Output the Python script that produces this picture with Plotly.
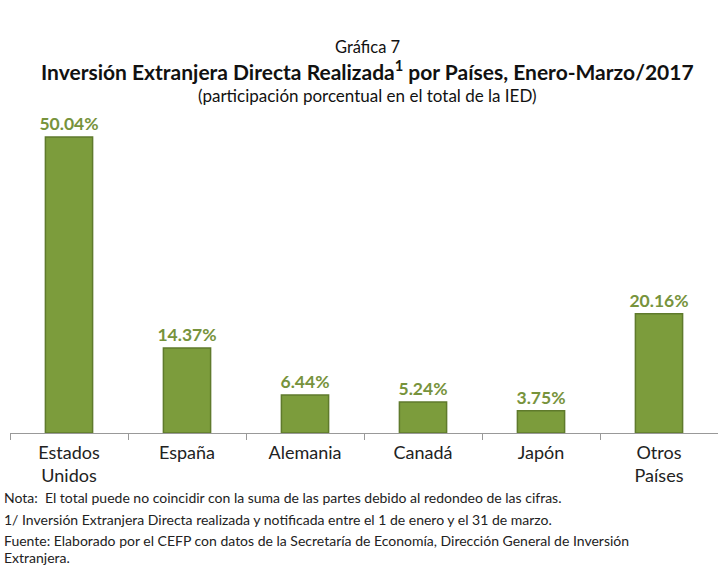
import plotly.graph_objects as go

categories = ["Estados<br>Unidos", "España", "Alemania", "Canadá", "Japón", "Otros<br>Países"]
values = [50.04, 14.37, 6.44, 5.24, 3.75, 20.16]
value_labels = ["50.04%", "14.37%", "6.44%", "5.24%", "3.75%", "20.16%"]

FONT = "Lato, 'Open Sans', sans-serif"
W, H = 718, 565
MT, MB = 110, 132
PH = H - MT - MB

fig = go.Figure()
fig.add_trace(go.Bar(
    x=categories, y=values, text=value_labels, textposition="outside",
    constraintext="none",
    textfont=dict(family=FONT, size=17.5, color="#77933C", weight="bold"),
    marker=dict(color="#7C9C3C", line=dict(color="#5F7A2C", width=1.5)),
    width=0.4, cliponaxis=False,
))

fig.update_layout(
    width=W, height=H,
    margin=dict(l=10, r=0, t=MT, b=MB),
    paper_bgcolor="white", plot_bgcolor="white",
    showlegend=False,
    font=dict(family=FONT, color="#222222"),
    xaxis=dict(
        showline=True, linecolor="#999999", linewidth=1,
        ticks="outside", tickson="boundaries", ticklen=6, tickcolor="#999999",
        ticklabelstandoff=3,
        tickfont=dict(size=18, color="#222222", family=FONT),
    ),
    yaxis=dict(range=[0, 54.6], visible=False, showgrid=False),
    bargap=0.6,
)

def ypaper(yp):
    return (H - MB - yp) / PH

titles = [
    ("Gráfica 7", 47, 16.5, "normal"),
    ("Inversión Extranjera Directa Realizada<sup>1</sup> por Países, Enero-Marzo/2017", 70, 21, "bold"),
    ("(participación porcentual en el total de la IED)", 96, 17, "normal"),
]
for t, yp, sz, wt in titles:
    fig.add_annotation(
        text=t, xref="paper", yref="paper", x=(367 - 10) / (W - 10), xanchor="center",
        y=ypaper(yp), yanchor="middle", showarrow=False,
        font=dict(size=sz, family=FONT, color="#111111", weight=wt),
    )

notes = [
    ("Nota:  El total puede no coincidir con la suma de las partes debido al redondeo de las cifras.", 497),
    ("1/ Inversión Extranjera Directa realizada y notificada entre el 1 de enero y el 31 de marzo.", 519),
    ("Fuente: Elaborado por el CEFP con datos de la Secretaría de Economía, Dirección General de Inversión", 540),
    ("Extranjera.", 557),
]
for t, yp in notes:
    fig.add_annotation(
        text=t, xref="paper", yref="paper", x=(2 - 10) / (W - 10), xanchor="left",
        y=ypaper(yp), yanchor="middle", showarrow=False,
        font=dict(size=14, family=FONT, color="#222222"),
    )

fig.write_html("out.html", config={"displayModeBar": False},
               post_script="document.body.style.margin='0';")
